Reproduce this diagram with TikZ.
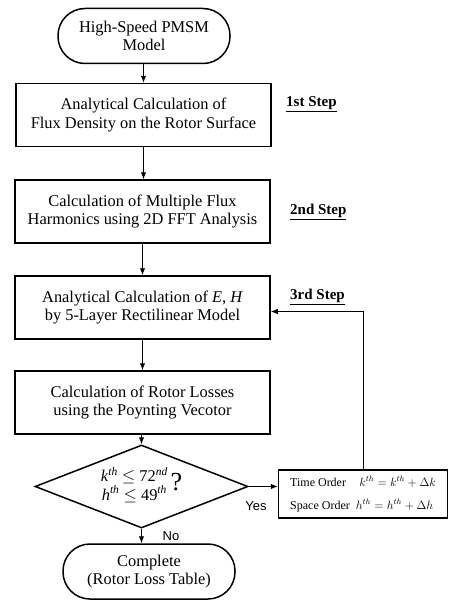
\documentclass[tikz,border=0pt]{standalone}
\usepackage{fontspec}
\setmainfont{Liberation Serif}
\newfontfamily\sansf{Liberation Sans}
\usetikzlibrary{shapes.geometric,arrows.meta}
\tikzset{
  bigtxt/.style={font=\fontsize{16.4}{18.5}\selectfont},
  proc/.style={draw, line width=1.5pt, minimum width=255pt, minimum height=63pt, align=center, inner sep=0pt, bigtxt},
  term/.style={draw, line width=1.5pt, rounded corners=27pt, minimum width=172pt, minimum height=55pt, align=center, inner sep=0pt, bigtxt},
  dec/.style={draw, diamond, line width=1.5pt, minimum width=213pt, minimum height=83pt, inner sep=0pt, aspect=2.5, bigtxt},
  sidebox/.style={draw, line width=1.5pt, minimum width=169pt, minimum height=48pt, align=left, inner sep=0pt, font=\fontsize{12}{23}\selectfont},
  steplbl/.style={font=\fontsize{15}{17}\selectfont\bfseries, anchor=west, inner sep=0pt},
  yn/.style={font=\fontsize{13}{15}\selectfont\sansf, inner sep=0pt},
  arr/.style={line width=1pt, -{Latex[length=7pt,width=5.5pt]}}
}
\begin{document}
\begin{tikzpicture}[x=1pt,y=-1pt]
\useasboundingbox (0,0) rectangle (449,610);
\node[term] (start) at (144,36) {High-Speed PMSM\\Model};
\node[proc] (b1) at (143.5,115) {Analytical Calculation of\\Flux Density on the Rotor Surface};
\node[proc] (b2) at (142.5,211.5) {Calculation of Multiple Flux\\Harmonics using 2D FFT Analysis};
\node[proc] (b3) at (142.5,307.5) {Analytical Calculation of \textit{E}, \textit{H}\\by 5-Layer Rectilinear Model};
\node[proc] (b4) at (142.5,402.5) {Calculation of Rotor Losses\\using the Poynting Vecotor};
\node[dec] (d) at (141.5,486.5) {\begin{tabular}{@{}c@{}}\textit{k}\textsuperscript{\textit{th}} $\le$ 72\textsuperscript{\textit{nd}}\\[-1pt] \textit{h}\textsuperscript{\textit{th}} $\le$ 49\textsuperscript{\textit{th}}\end{tabular}\,{\fontsize{26}{26}\selectfont ?}};
\node[sidebox] (rb) at (363,494) {Time Order\hspace{1.1em}$k^{th}=k^{th}+\Delta k$\\Space Order\hspace{0.5em}$h^{th}=h^{th}+\Delta h$};
\node[term] (end) at (149,571.5) {Complete\\(Rotor Loss Table)};

\node[steplbl] (s1) at (286,104) {\underline{1st Step}};
\node[steplbl] (s2) at (290,212) {\underline{2nd Step}};
\node[steplbl] (s3) at (290,297) {\underline{3rd Step}};
\node[yn] (yes) at (256,506) {Yes};
\node[yn] (no) at (171,536) {No};

\draw[arr] (start.south -| b1.north) -- (b1.north);
\draw[arr] (b1.south) -- (b1.south |- b2.north);
\draw[arr] (b2.south) -- (b2.south |- b3.north);
\draw[arr] (b3.south) -- (b3.south |- b4.north);
\draw[arr] (b4.south -| d.north) -- (d.north);
\draw[arr] (d.south) -- (d.south |- end.north);
\draw[arr] (d.east) -- (d.east -| rb.west);
\draw[arr] (rb.north) |- ([yshift=-4pt]b3.east);
\end{tikzpicture}
\end{document}
